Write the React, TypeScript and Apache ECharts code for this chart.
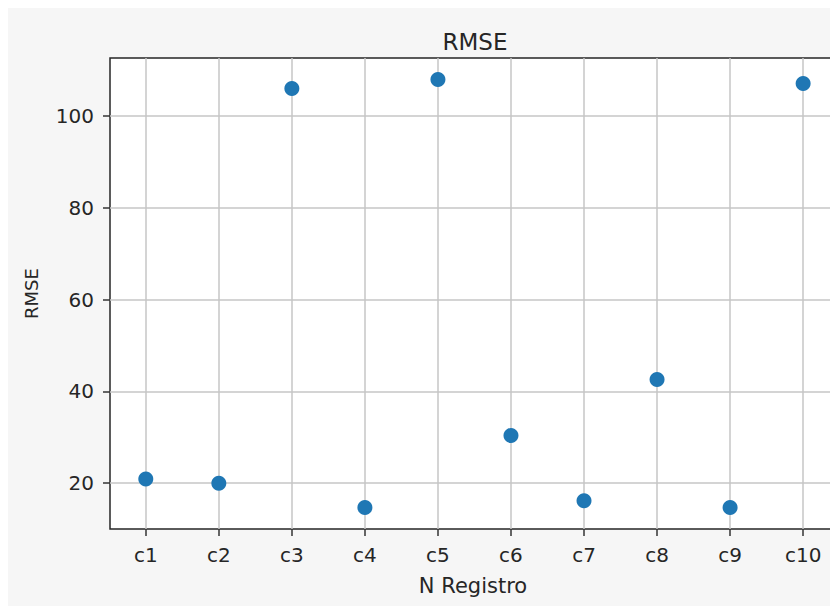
import React, { useEffect, useRef } from "react";
import * as echarts from "echarts";

const categories = ["c1", "c2", "c3", "c4", "c5", "c6", "c7", "c8", "c9", "c10"];
const rmseValues = [20.9, 20.0, 106.0, 14.7, 108.0, 30.4, 16.2, 42.6, 14.7, 107.1];
const xTicks = [0, 1, 2, 3, 4, 5, 6, 7, 8, 9];
const yTicks = [20, 40, 60, 80, 100];
const titleText = "RMSE";
const xName = "N Registro";
const yName = "RMSE";

const FONT = "DejaVu Sans";
const TEXT = "#262626";

export default function App() {
  const ref = useRef<HTMLDivElement>(null);
  useEffect(() => {
    if (!ref.current) return;
    const chart = echarts.init(ref.current, undefined, { renderer: "svg" });
    const points = rmseValues.map((v, i) => [i, v]);
    chart.setOption({
      animation: false,
      backgroundColor: "#f6f6f6",
      title: {
        text: titleText,
        left: 462,
        top: 17,
        textAlign: "center",
        textStyle: { fontFamily: FONT, fontSize: 23, fontWeight: "normal", color: TEXT },
      },
      grid: {
        left: 102,
        top: 50,
        right: 2,
        bottom: 77,
        show: true,
        backgroundColor: "#ffffff",
        borderColor: "#262626",
        borderWidth: 1.5,
      },
      xAxis: {
        type: "value",
        min: -0.49,
        max: 9.45,
        splitNumber: 10,
        minInterval: 1,
        maxInterval: 1,
        name: xName,
        nameLocation: "middle",
        nameGap: 46,
        nameTextStyle: { fontFamily: FONT, fontSize: 21, color: TEXT },
        axisLine: { show: false, onZero: false },
        axisTick: { show: true, length: 7, lineStyle: { color: "#333", width: 1.5 }, customValues: xTicks },
        axisLabel: {
          fontFamily: FONT,
          fontSize: 20,
          color: TEXT,
          margin: 16,
          customValues: xTicks,
          formatter: (v: number) => (Number.isInteger(v) && categories[v] ? categories[v] : ""),
        },
        splitLine: { show: true, lineStyle: { color: "#c6c6c6", width: 1.5 } },
      },
      yAxis: {
        type: "value",
        min: 10.03,
        max: 112.67,
        name: yName,
        nameLocation: "middle",
        nameGap: 70,
        nameRotate: 90,
        nameTextStyle: { fontFamily: FONT, fontSize: 18, color: TEXT },
        axisLine: { show: false, onZero: false },
        axisTick: { show: true, length: 7, lineStyle: { color: "#333", width: 1.5 }, customValues: yTicks },
        axisLabel: {
          fontFamily: FONT,
          fontSize: 20,
          color: TEXT,
          margin: 16,
          customValues: yTicks,
          formatter: (v: number) => (yTicks.includes(v) ? String(v) : ""),
        },
        splitLine: { show: true, lineStyle: { color: "#c6c6c6", width: 1.5 } },
      },
      series: [
        {
          type: "scatter",
          data: points,
          symbol: "circle",
          symbolSize: 15,
          itemStyle: { color: "#1f77b4", opacity: 1 },
        },
      ],
    });
    return () => chart.dispose();
  }, []);
  return <div ref={ref} style={{ width: 830, height: 598 }} />;
}
